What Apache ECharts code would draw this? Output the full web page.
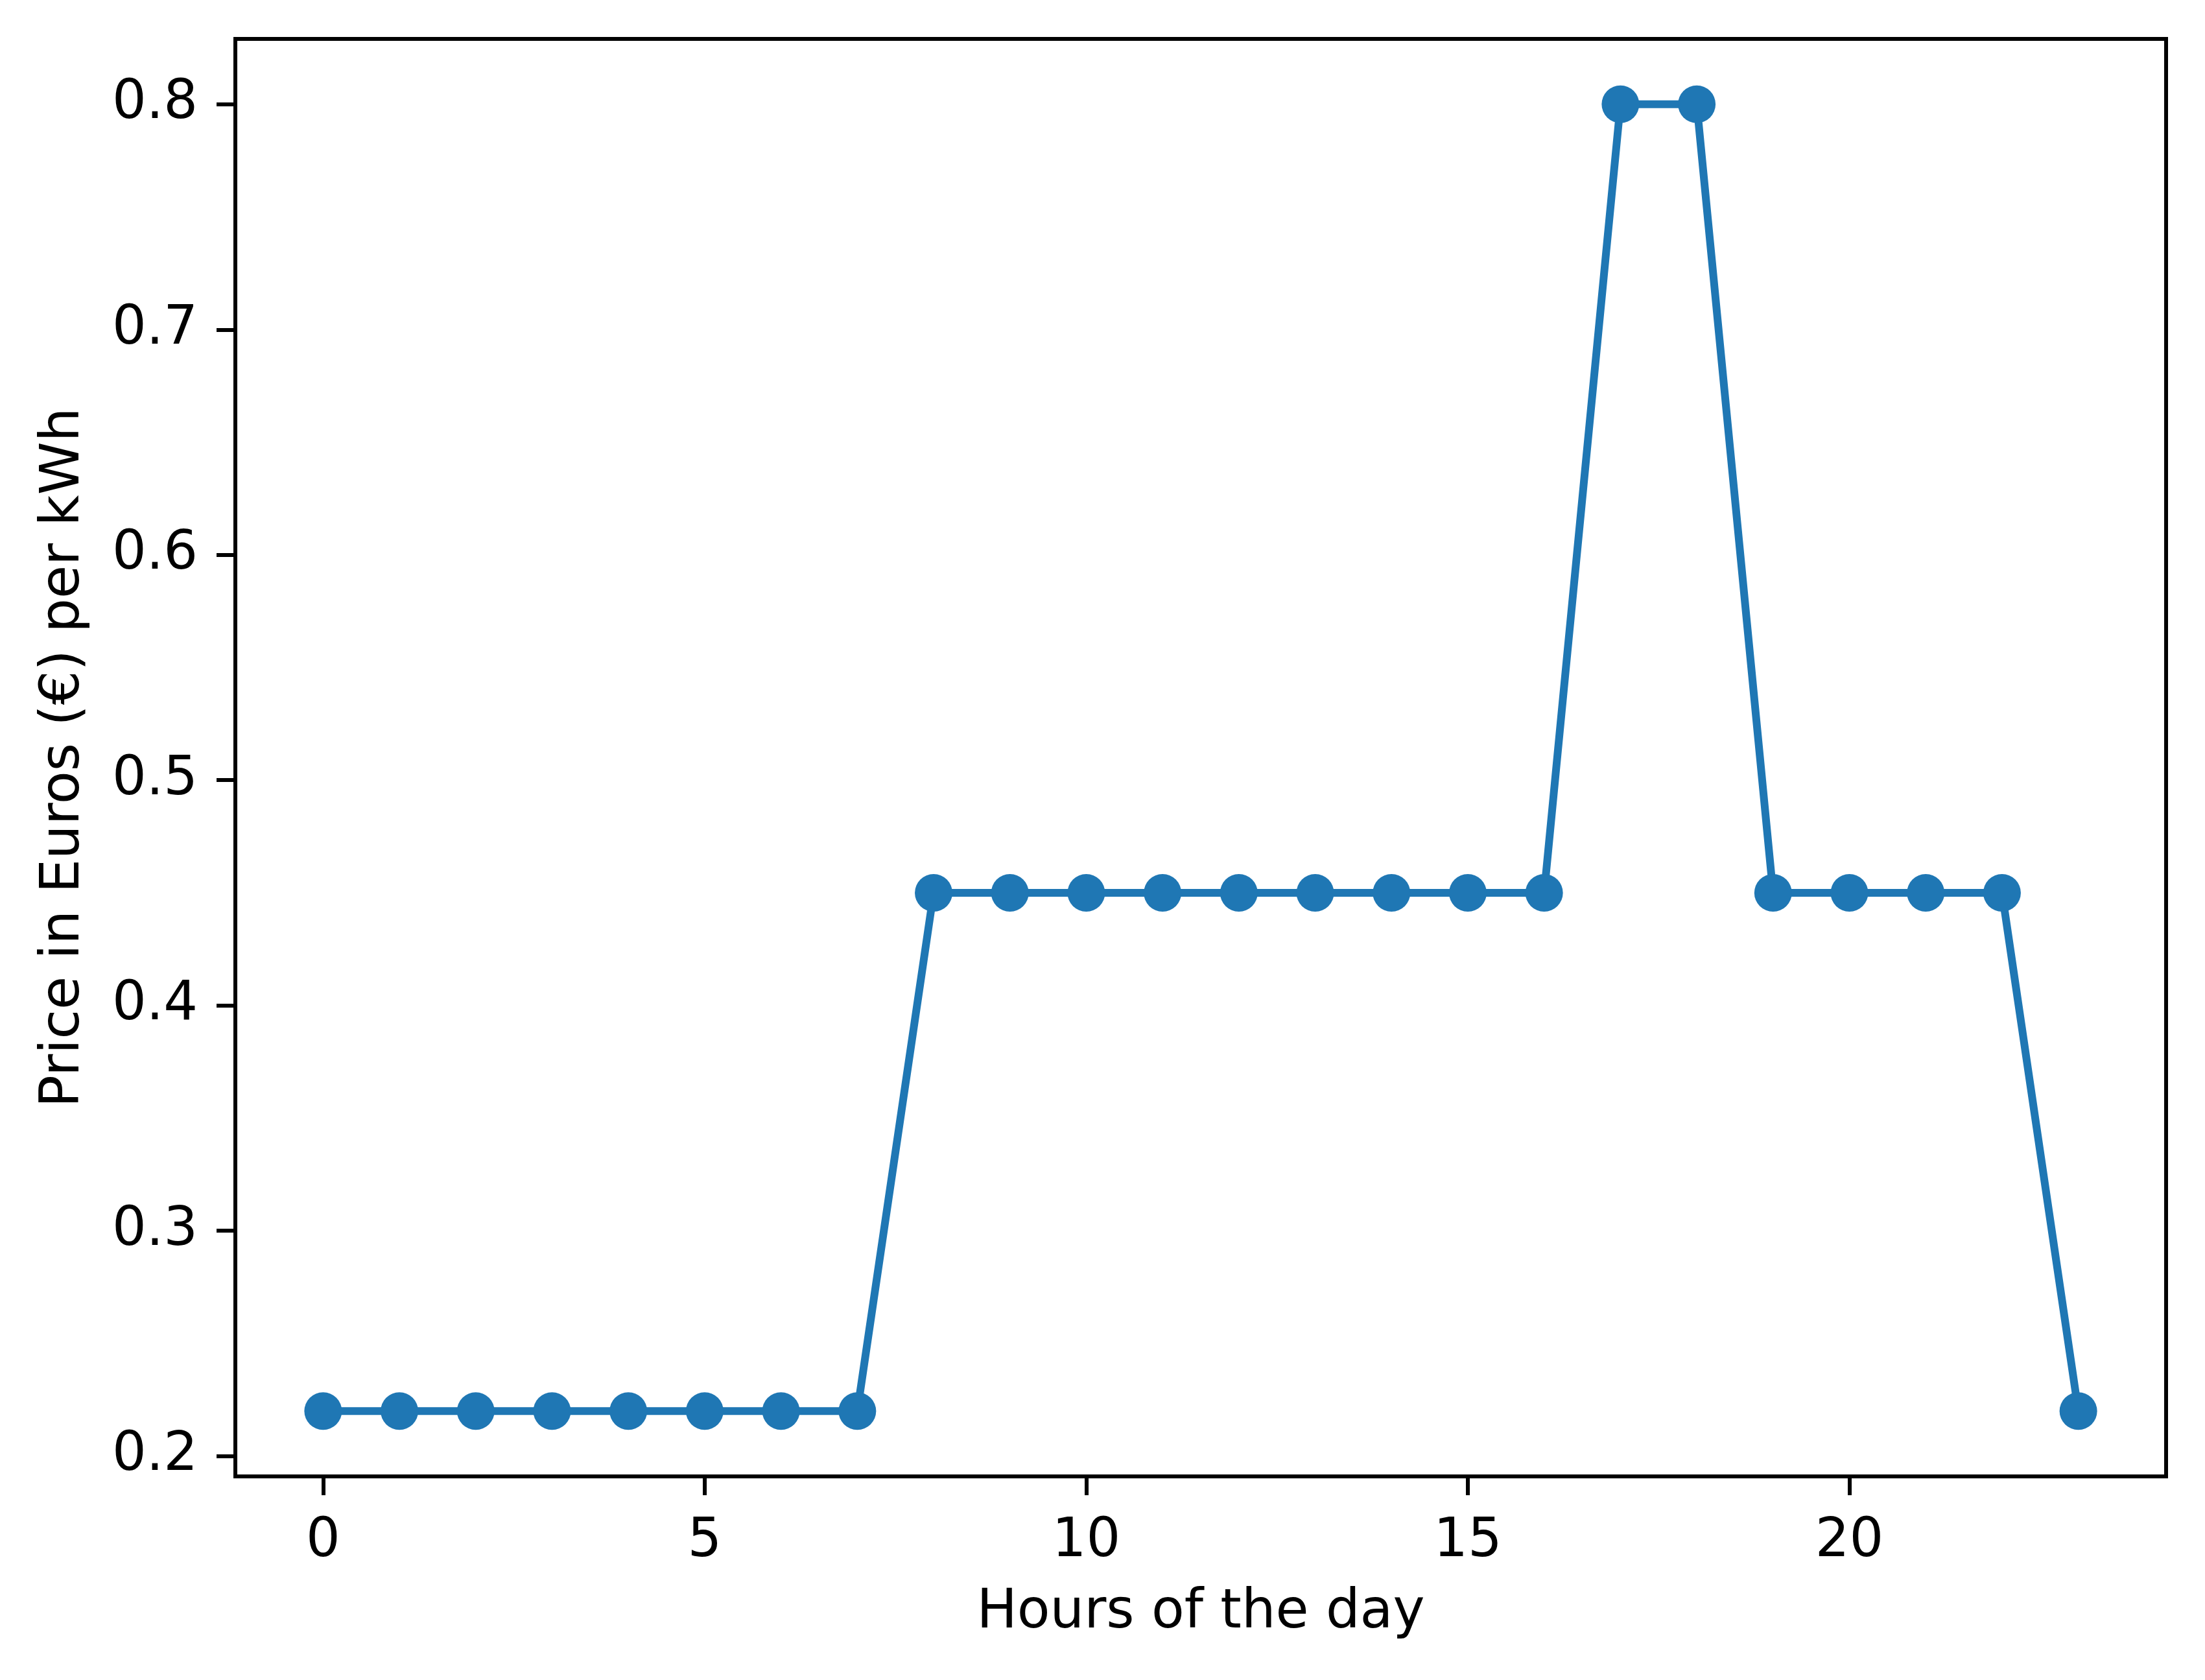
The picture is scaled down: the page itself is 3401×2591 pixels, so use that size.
<!DOCTYPE html>
<html>
<head>
<meta charset="utf-8">
<script src="https://cdn.jsdelivr.net/npm/echarts@6/dist/echarts.min.js"></script>
<style>
  html, body { margin: 0; padding: 0; background: #fff; }
  #chart { width: 3401px; height: 2591px; }
</style>
</head>
<body>
<div id="chart"></div>
<script>
// hourly price data
var hours = [0, 1, 2, 3, 4, 5, 6, 7, 8, 9, 10, 11, 12, 13, 14, 15, 16, 17, 18, 19, 20, 21, 22, 23]
var prices = [0.22, 0.22, 0.22, 0.22, 0.22, 0.22, 0.22, 0.22,
  0.45, 0.45, 0.45, 0.45, 0.45, 0.45, 0.45, 0.45, 0.45,
  0.8, 0.8,
  0.45, 0.45, 0.45, 0.45,
  0.22]
var xTicks = [0, 5, 10, 15, 20]
var yTicks = [0.2, 0.3, 0.4, 0.5, 0.6, 0.7, 0.8]

var font = 'DejaVu Sans'
var fs = 83

var chart = echarts.init(document.getElementById('chart'))
chart.setOption({
  animation: false,
  backgroundColor: '#fff',
  grid: {
    left: 363, top: 60, right: 60, bottom: 314,
    show: true, borderColor: '#000', borderWidth: 6
  },
  xAxis: {
    type: 'value',
    min: -1.15,
    max: 24.15,
    name: 'Hours of the day',
    nameLocation: 'middle',
    nameGap: 170,
    nameTextStyle: { fontFamily: font, fontSize: fs, color: '#000' },
    axisLine: { onZero: false, lineStyle: { color: '#000', width: 6 } },
    axisTick: { show: true, length: 29, lineStyle: { color: '#000', width: 6 }, customValues: xTicks },
    axisLabel: {
      customValues: xTicks, margin: 60,
      fontFamily: font, fontSize: fs, color: '#000',
      formatter: function (v) { return String(v) }
    },
    splitLine: { show: false }
  },
  yAxis: {
    type: 'value',
    min: 0.191,
    max: 0.829,
    name: 'Price in Euros (€) per kWh',
    nameLocation: 'middle',
    nameGap: 222,
    nameTextStyle: { fontFamily: font, fontSize: fs, color: '#000' },
    axisLine: { show: true, onZero: false, lineStyle: { color: '#000', width: 6 } },
    axisTick: { show: true, length: 29, lineStyle: { color: '#000', width: 6 }, customValues: yTicks },
    axisLabel: {
      customValues: yTicks, margin: 58,
      fontFamily: font, fontSize: fs, color: '#000',
      formatter: function (v) { return v.toFixed(1) }
    },
    splitLine: { show: false }
  },
  series: [{
    type: 'line',
    data: hours.map(function (h, i) { return [h, prices[i]] }),
    symbol: 'circle',
    symbolSize: 58,
    itemStyle: { color: '#1f77b4' },
    lineStyle: { color: '#1f77b4', width: 12 }
  }]
})
</script>
</body>
</html>
